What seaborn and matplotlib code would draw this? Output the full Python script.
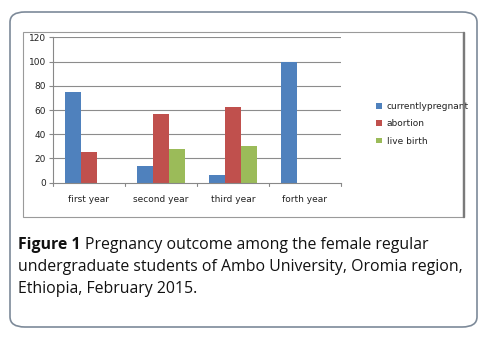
import matplotlib
matplotlib.use("Agg")
import matplotlib.pyplot as plt
import seaborn as sns
import pandas as pd
from matplotlib.patches import FancyBboxPatch, Rectangle

years = ["first year", "second year", "third year", "forth year"]
series = ["currentlypregnant", "abortion", "live birth"]
currently_pregnant = [75, 14, 6, 100]
abortion = [25, 57, 62.5, 0]
live_birth = [0, 28, 30.5, 0]
colors = ["#4F81BD", "#C0504D", "#9BBB59"]
yticks = [0, 20, 40, 60, 80, 100, 120]

rows = []
for s, vals in zip(series, [currently_pregnant, abortion, live_birth]):
    for y, v in zip(years, vals):
        rows.append({"year": y, "series": s, "value": v})
df = pd.DataFrame(rows)

sns.set_style("white")
plt.rcParams['font.family'] = ['DejaVu Sans']
W, H = 494, 341
fig = plt.figure(figsize=(W / 100, H / 100), dpi=100)

# outer rounded frame
fig.patches.append(FancyBboxPatch((10 / W, 1 - 327 / H), 467 / W, 315 / H,
                                  boxstyle="round,pad=0,rounding_size=0.03",
                                  transform=fig.transFigure, fill=False,
                                  edgecolor="#7d8a99", linewidth=1.2))
# inner chart frame
fig.patches.append(Rectangle((23 / W, 1 - 217 / H), 440 / W, 185 / H,
                             transform=fig.transFigure, fill=False,
                             edgecolor="#9a9a9a", linewidth=0.8))
fig.patches.append(Rectangle((462.5 / W, 1 - 217 / H), 1.2 / W, 185 / H,
                             transform=fig.transFigure, color="#7a7a7a"))

ax = fig.add_axes([53 / W, 1 - 182.7 / H, 288 / W, 145.4 / H])
sns.barplot(data=df, x="year", y="value", hue="series", palette=colors,
            width=0.667, ax=ax, saturation=1, legend=True, linewidth=0,
            zorder=3)
ax.set_ylim(0, 120)
ax.set_xlim(-0.5, 3.5)
ax.set_yticks(yticks)
ax.set_yticklabels([str(t) for t in yticks], fontsize=6.5, color="#222222")
ax.set_xticks([0, 1, 2, 3])
ax.set_xticklabels(years, fontsize=6.5, color="#222222")
ax.tick_params(axis="x", length=0, pad=9)
ax.tick_params(axis="y", length=3, width=0.8, color="#888888", pad=2, left=True)
ax.set_xlabel("")
ax.set_ylabel("")
for t in yticks[1:]:
    ax.axhline(t, color="#8c8c8c", linewidth=0.8, zorder=0)
for sp in ["top", "right"]:
    ax.spines[sp].set_visible(False)
ax.spines["left"].set_color("#888888")
ax.spines["bottom"].set_color("#888888")
ax.spines["left"].set_linewidth(0.8)
ax.spines["bottom"].set_linewidth(0.8)
ax.spines["bottom"].set_zorder(4)
# category boundary ticks
for b in [-0.5, 0.5, 1.5, 2.5, 3.5]:
    ax.plot([b, b], [0, -3], color="#888888", linewidth=0.8, clip_on=False)

leg = ax.legend(loc="center left", bbox_to_anchor=(368 / W, 1 - 124 / H),
                bbox_transform=fig.transFigure, frameon=False, fontsize=6.5,
                handlelength=0.6, handleheight=0.6, handletextpad=0.6,
                labelspacing=0.9)
for txt in leg.get_texts():
    txt.set_color("#222222")

cap_font = ["Open Sans", "DejaVu Sans"]
fs = 11.4
t1 = fig.text(18 / W, 1 - 245 / H, "Figure 1", fontsize=fs, va="center",
              family=cap_font, weight="bold", color="#111111")
fig.canvas.draw()
bb = t1.get_window_extent()
fig.text((bb.x1 + 4) / W, 1 - 245 / H,
         "Pregnancy outcome among the female regular", fontsize=fs,
         va="center", family=cap_font, color="#111111")
fig.text(18 / W, 1 - 267 / H,
         "undergraduate students of Ambo University, Oromia region,",
         fontsize=fs, va="center", family=cap_font, color="#111111")
fig.text(18 / W, 1 - 289 / H, "Ethiopia, February 2015.", fontsize=fs,
         va="center", family=cap_font, color="#111111")

fig.savefig("out.png", dpi=100)
